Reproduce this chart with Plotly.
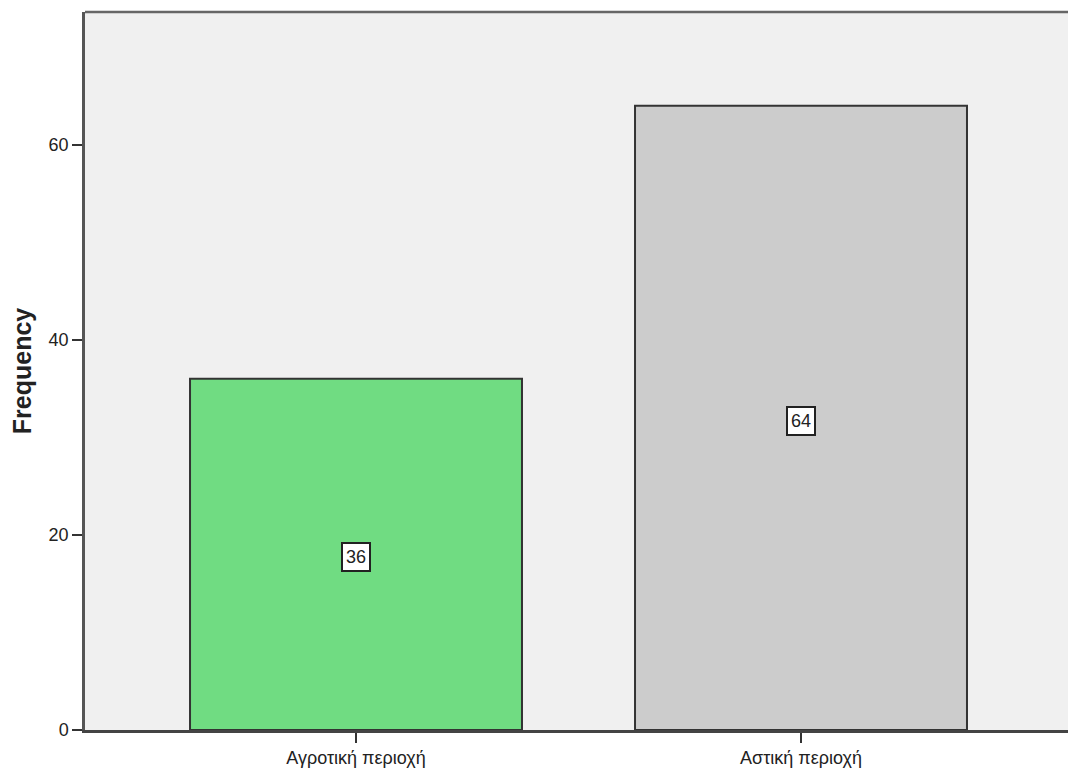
import plotly.graph_objects as go

# Frequency of respondents by area type
categories = ["Αγροτική περιοχή", "Αστική περιοχή"]
frequencies = [36, 64]
bar_colors = ["#70dc82", "#cccccc"]
y_ticks = [0, 20, 40, 60]

fig = go.Figure()
fig.add_trace(go.Bar(
    x=list(range(len(categories))),
    y=frequencies,
    width=0.746,
    marker=dict(color=bar_colors, line=dict(color="#333333", width=2)),
    hoverinfo="skip",
))

# Value labels in small boxed tags at mid-height of each bar
for i, v in enumerate(frequencies):
    fig.add_annotation(
        x=i, y=v / 2, text=str(v), showarrow=False, yshift=-3,
        font=dict(family="Liberation Sans, Arial", size=18, color="#222"),
        bgcolor="white", bordercolor="#222", borderwidth=2, borderpad=3,
    )

# Top frame line of the plot area
fig.add_shape(type="line", xref="paper", yref="paper", x0=0, x1=1, y0=1, y1=1,
              line=dict(color="#666", width=2.5))

fig.update_layout(
    width=1068, height=771,
    margin=dict(l=85, r=0, t=12, b=41),
    paper_bgcolor="white",
    plot_bgcolor="#f0f0f0",
    showlegend=False,
    font=dict(family="Liberation Sans, Arial", size=18, color="#222"),
)
fig.update_xaxes(
    range=[-0.609, 1.600],
    tickmode="array", tickvals=list(range(len(categories))), ticktext=categories,
    ticks="outside", ticklen=10, tickwidth=2, tickcolor="#333",
    showline=True, linecolor="#444", linewidth=2.5,
    showgrid=False, zeroline=False,
    tickfont=dict(size=18),
)
fig.update_yaxes(
    range=[0, 73.6],
    tickmode="array", tickvals=y_ticks,
    ticks="outside", ticklen=10, tickwidth=2, tickcolor="#333",
    showline=True, linecolor="#555", linewidth=2.5,
    showgrid=False, zeroline=False,
    title=dict(text="<b>Frequency</b>", font=dict(size=25), standoff=10),
    tickfont=dict(size=18),
)

fig.write_html("out.html")
